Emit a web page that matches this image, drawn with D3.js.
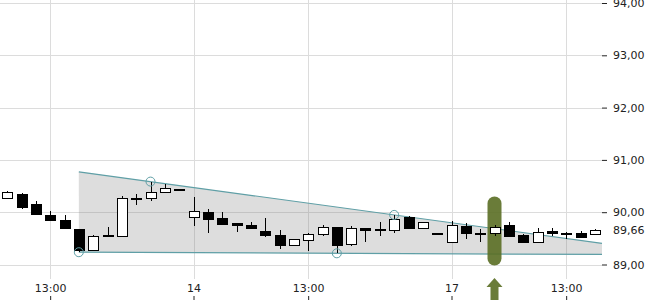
<!DOCTYPE html>
<html>
<head>
<meta charset="utf-8">
<script src="https://cdn.jsdelivr.net/npm/d3@7"></script>
<style>
  html, body { margin: 0; padding: 0; background: #fff; }
  svg { display: block; font-family: "DejaVu Sans", sans-serif; }
</style>
</head>
<body>
<svg id="chart" width="650" height="300"></svg>
<script>
// ---- data ----
const openV  = [90.27,90.34,90.15,89.95,89.85,89.68,89.29,89.57,89.55,90.27,90.27,90.40,90.44,89.92,90.00,89.89,89.79,89.75,89.64,89.56,89.37,89.47,89.57,89.72,89.38,89.70,89.67,89.66,89.90,89.69,89.60,89.43,89.73,89.60,89.60,89.76,89.57,89.43,89.64,89.60,89.61,89.58];
const highV  = [90.41,90.37,90.22,90.03,89.95,89.68,89.56,89.72,90.31,90.34,90.585,90.54,90.44,90.29,90.07,90.01,89.79,89.81,89.89,89.66,89.48,89.61,89.76,89.72,89.73,89.70,89.82,89.948,89.92,89.81,89.60,89.83,89.80,89.68,89.75,89.82,89.59,89.70,89.70,89.63,89.65,89.68];
const lowV   = [90.27,90.07,89.96,89.85,89.69,89.235,89.29,89.56,89.54,90.13,90.21,90.38,90.44,89.74,89.61,89.78,89.63,89.69,89.53,89.30,89.37,89.26,89.54,89.214,89.35,89.43,89.54,89.60,89.69,89.67,89.60,89.43,89.49,89.43,89.55,89.55,89.43,89.43,89.55,89.48,89.52,89.58];
const closeV = [90.38,90.09,89.96,89.85,89.69,89.27,89.55,89.56,90.27,90.26,90.38,90.47,90.44,90.03,89.86,89.78,89.76,89.69,89.57,89.36,89.48,89.58,89.71,89.38,89.69,89.66,89.67,89.87,89.69,89.81,89.60,89.75,89.60,89.60,89.71,89.55,89.43,89.63,89.60,89.60,89.53,89.66];

const xTickIndex  = [3, 13, 21, 31, 39];
const xTickLabels = ["13:00", "14", "13:00", "17", "13:00"];
const yTicks = [89, 90, 91, 92, 93, 94];
const lastPrice = 89.66;

// channel anchor points (candle index, price)
const upperPts = [[10, 90.585], [27, 89.948]];
const lowerPts = [[5, 89.235], [23, 89.214]];
const channelStart = 5;
const markerIndex = 34;

// ---- layout ----
const W = 650, H = 300;
const plotRight = 602, plotBottom = 279;
const n = openV.length;

const x = d3.scaleLinear().domain([-0.5, n - 0.5]).range([0, plotRight]);
const y = d3.scaleLinear().domain([89, 94]).range([264.5, 3]);

const loc = d3.formatLocale({decimal: ",", thousands: ".", grouping: [3], currency: ["", "€"]});
const fmt = loc.format(".2f");

const svg = d3.select("#chart");

// grid
const grid = svg.append("g").attr("shape-rendering", "crispEdges");
grid.selectAll(".hg").data(yTicks).join("line")
  .attr("x1", 0).attr("x2", plotRight)
  .attr("y1", d => Math.round(y(d)) + 0.5).attr("y2", d => Math.round(y(d)) + 0.5)
  .attr("stroke", "#dcdcdc");
grid.selectAll(".vg").data(xTickIndex).join("line")
  .attr("x1", d => Math.round(x(d)) + 0.5).attr("x2", d => Math.round(x(d)) + 0.5)
  .attr("y1", 0).attr("y2", plotBottom)
  .attr("stroke", "#dcdcdc");

// channel
function lineAt(pts, i) {
  const [i0, v0] = pts[0], [i1, v1] = pts[1];
  return v0 + (v1 - v0) * (i - i0) / (i1 - i0);
}
const iEnd = n - 0.5;
const poly = [
  [channelStart, lineAt(upperPts, channelStart)],
  [iEnd, lineAt(upperPts, iEnd)],
  [iEnd, lineAt(lowerPts, iEnd)],
  [channelStart, lineAt(lowerPts, channelStart)]
];
svg.append("path")
  .attr("d", d3.line().x(d => x(d[0])).y(d => y(d[1]))(poly) + "Z")
  .attr("fill", "rgba(128,128,128,0.27)");
const teal = "#5f9fa6";
[upperPts, lowerPts].forEach(pts => {
  svg.append("line")
    .attr("x1", x(channelStart)).attr("y1", y(lineAt(pts, channelStart)))
    .attr("x2", x(iEnd)).attr("y2", y(lineAt(pts, iEnd)))
    .attr("stroke", teal).attr("stroke-width", 1.2);
});

// marker highlight
const green = "#5a6e24";
const mx = x(markerIndex);
svg.append("rect")
  .attr("x", mx - 7).attr("width", 14)
  .attr("y", y(90.3)).attr("height", y(88.98) - y(90.3))
  .attr("rx", 7).attr("ry", 7)
  .attr("fill", green).attr("fill-opacity", 0.9);

// candles
const candles = svg.append("g");
d3.range(n).forEach(i => {
  const cx = Math.round(x(i)) + 0.5;
  const o = openV[i], c = closeV[i];
  candles.append("line")
    .attr("x1", cx).attr("x2", cx)
    .attr("y1", y(highV[i])).attr("y2", y(lowV[i]))
    .attr("stroke", "#000").attr("stroke-width", 1)
    .attr("shape-rendering", "crispEdges");
  const top = Math.round(y(Math.max(o, c))) + 0.5;
  const h = Math.max(1, Math.round(Math.abs(y(o) - y(c))));
  candles.append("rect")
    .attr("x", cx - 5).attr("width", 10)
    .attr("y", top).attr("height", h)
    .attr("fill", c > o ? "#fff" : "#000")
    .attr("stroke", "#000").attr("stroke-width", 1)
    .attr("shape-rendering", "crispEdges");
});

// channel anchor circles
[...upperPts, ...lowerPts].forEach(p => {
  svg.append("circle")
    .attr("cx", x(p[0])).attr("cy", y(p[1])).attr("r", 4.5)
    .attr("fill", "none").attr("stroke", teal).attr("stroke-width", 1);
});

// y axis
const yAxis = d3.axisRight(y).tickValues(yTicks).tickFormat(fmt).tickSize(5).tickPadding(6);
const gy = svg.append("g").attr("transform", `translate(${plotRight},0)`).call(yAxis);
gy.select(".domain").remove();
gy.selectAll("text").attr("font-size", 11).attr("fill", "#222").attr("font-family", "DejaVu Sans, sans-serif");
gy.selectAll("line").attr("stroke", "#222");
svg.append("text")
  .attr("x", plotRight + 11).attr("y", y(lastPrice)).attr("dy", "0.32em")
  .attr("font-size", 11).attr("fill", "#222")
  .text(fmt(lastPrice));

// x axis (labels above inward ticks at bottom edge)
const xAxis = d3.axisTop(x).tickValues(xTickIndex)
  .tickFormat((d, k) => xTickLabels[k]).tickSize(4).tickPadding(4);
const gx = svg.append("g").attr("transform", `translate(0,${H})`).call(xAxis);
gx.select(".domain").remove();
gx.selectAll("text").attr("font-size", 11).attr("fill", "#222").attr("font-family", "DejaVu Sans, sans-serif");
gx.selectAll("line").attr("stroke", "#222");

// arrow under marker
const ax = mx;
svg.append("path")
  .attr("d", `M${ax},278 L${ax + 8},287 L${ax + 4},287 L${ax + 4},300 L${ax - 4},300 L${ax - 4},287 L${ax - 8},287 Z`)
  .attr("fill", green).attr("fill-opacity", 0.9);
</script>
</body>
</html>
